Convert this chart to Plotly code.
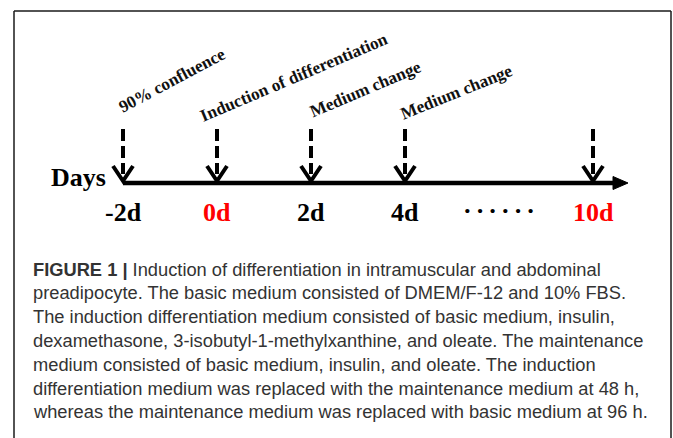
import plotly.graph_objects as go

# ---------------- data ----------------
event_labels = ["-2d", "0d", "2d", "4d", "10d"]
event_slots = [0, 1, 2, 3, 5]
event_label_colors = ["#000000", "#ff0000", "#000000", "#000000", "#ff0000"]
event_notes = ["90% confluence", "Induction of differentiation", "Medium change", "Medium change", ""]
ellipsis_slot = 4
ellipsis_text = "\u00b7\u00b7\u00b7\u00b7\u00b7\u00b7"
axis_title = "Days"
caption_lines = [
    "<b>FIGURE 1 |</b> Induction of differentiation in intramuscular and abdominal",
    "preadipocyte. The basic medium consisted of DMEM/F-12 and 10% FBS.",
    "The induction differentiation medium consisted of basic medium, insulin,",
    "dexamethasone, 3-isobutyl-1-methylxanthine, and oleate. The maintenance",
    "medium consisted of basic medium, insulin, and oleate. The induction",
    "differentiation medium was replaced with the maintenance medium at 48 h,",
    "whereas the maintenance medium was replaced with basic medium at 96 h.",
]

# ---------------- layout geometry ----------------
W, H = 673, 438
SLOT_PX = 94.0          # pixels per slot on the timeline
X0_PX = 123.0           # pixel column of slot 0
LINE_ROW = 183.0        # pixel row of the timeline
px = 1.0 / SLOT_PX      # one pixel in x data units

x_range = [-X0_PX / SLOT_PX, (W - X0_PX) / SLOT_PX]
y_range = [LINE_ROW - H, LINE_ROW]

def yv(row):
    """page row -> y data value (timeline at 0, pixels upward)"""
    return LINE_ROW - row

def pxx(col):
    return col / W

def pxy(row):
    return 1 - row / H

SERIF = "Liberation Serif"
SANS = "Liberation Sans"

fig = go.Figure()

# timeline
end_base = event_slots[-1] + 22 * px
end_tip = event_slots[-1] + 35 * px
fig.add_trace(go.Scatter(x=[event_slots[0], end_base], y=[0, 0], mode="lines",
                         line=dict(color="black", width=4.5), hoverinfo="skip",
                         showlegend=False))

shapes = []
shapes.append(dict(type="path", xref="x", yref="y",
                   path=f"M {end_base - 2*px},6.5 L {end_tip},0 L {end_base - 2*px},-6.5 Z",
                   fillcolor="black", line=dict(color="black", width=1)))

for s in event_slots:
    shapes.append(dict(type="line", xref="x", yref="y", x0=s, x1=s,
                       y0=yv(129), y1=yv(174),
                       line=dict(color="black", width=4, dash="12px,5px")))
    shapes.append(dict(type="path", xref="x", yref="y",
                       path=f"M {s - 10*px},{yv(166)} L {s},{yv(181)} L {s + 10*px},{yv(166)}",
                       line=dict(color="black", width=4)))

bc = "#1a1a1a"
shapes.append(dict(type="line", xref="paper", yref="paper", x0=pxx(14), x1=pxx(671),
                   y0=pxy(11), y1=pxy(11), line=dict(color=bc, width=1.5)))
shapes.append(dict(type="line", xref="paper", yref="paper", x0=pxx(14), x1=pxx(14),
                   y0=pxy(11), y1=0, line=dict(color=bc, width=1.5)))
shapes.append(dict(type="line", xref="paper", yref="paper", x0=pxx(671), x1=pxx(671),
                   y0=pxy(11), y1=0, line=dict(color=bc, width=1.5)))

annotations = []
for s, lab, col in zip(event_slots, event_labels, event_label_colors):
    annotations.append(dict(x=s, y=yv(212), xref="x", yref="y", text=f"<b>{lab}</b>",
                            showarrow=False, xanchor="center", yanchor="middle",
                            font=dict(family=SERIF, size=26, color=col)))
annotations.append(dict(x=ellipsis_slot + 2*px, y=yv(210), xref="x", yref="y",
                        text=f"<span style='letter-spacing:4px'><b>{ellipsis_text}</b></span>",
                        showarrow=False, xanchor="center", yanchor="middle",
                        font=dict(family=SERIF, size=26, color="black")))
annotations.append(dict(x=-15*px, y=yv(177), xref="x", yref="y", text=f"<b>{axis_title}</b>",
                        showarrow=False, xanchor="right", yanchor="middle",
                        font=dict(family=SERIF, size=26, color="black")))

# rotated event notes: (dx px from arrow, row px of centre, angle)
note_pos = [(49, 80, -28), (77, 77, -23), (54, 89, -23), (51, 92, -22)]
for s, note, (dx, row, ang) in zip(event_slots, event_notes, note_pos):
    if not note:
        continue
    annotations.append(dict(x=s + dx*px, y=yv(row), xref="x", yref="y",
                            text=f"<b>{note}</b>", showarrow=False, textangle=ang,
                            xanchor="center", yanchor="middle",
                            font=dict(family=SERIF, size=17.3, color="#111111")))

for i, line in enumerate(caption_lines):
    annotations.append(dict(x=pxx(31), y=pxy(269 + i*23.8), xref="paper", yref="paper",
                            text=line, showarrow=False, xanchor="left", yanchor="middle",
                            align="left",
                            font=dict(family=SANS, size=18.3, color="#333333")))

fig.update_layout(
    width=W, height=H,
    margin=dict(l=0, r=0, t=0, b=0),
    paper_bgcolor="white", plot_bgcolor="white",
    xaxis=dict(range=x_range, visible=False, fixedrange=True),
    yaxis=dict(range=y_range, visible=False, fixedrange=True),
    shapes=shapes, annotations=annotations,
    showlegend=False,
)

fig.write_html("out.html",
               config={"displayModeBar": False, "staticPlot": True},
               post_script="document.body.style.margin='0px';"
                           "document.body.style.overflow='hidden';")
